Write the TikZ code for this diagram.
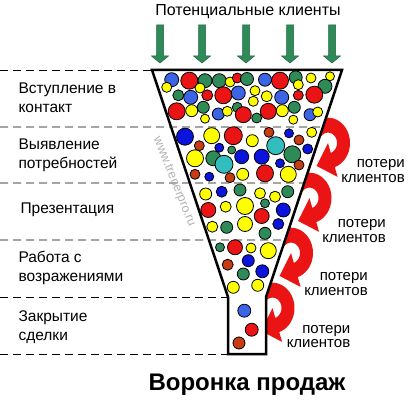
\documentclass[tikz,border=0pt]{standalone}
\usepackage{fontspec}
\setmainfont{Liberation Sans}
\usetikzlibrary{calc}

\definecolor{arrowgreen}{RGB}{46,139,87}
\definecolor{lossred}{RGB}{235,20,20}
\definecolor{rd}{RGB}{235,20,20}
\definecolor{bl}{RGB}{60,100,230}
\definecolor{db}{RGB}{10,20,220}
\definecolor{gr}{RGB}{46,139,87}
\definecolor{ye}{RGB}{255,255,0}
\definecolor{cy}{RGB}{50,190,190}
\definecolor{br}{RGB}{200,60,20}

\tikzset{
  stagelabel/.style={anchor=west, align=left, font=\fontsize{15.5}{19}\selectfont},
  losslabel/.style={align=right, font=\fontsize{15}{14.5}\selectfont},
  ball/.style={draw=black, line width=0.8pt},
  stageline/.style={dash pattern=on 8pt off 5pt, line width=0.9pt},
  lossarrow/.pic={
    \begin{scope}[yscale=1.15]
    \fill[lossred] plot[domain=-140:72, samples=30, variable=\t] ({22*cos(\t)},{22*sin(\t)})
      -- ({31*cos(72)},{31*sin(72)})
      -- ({15.5*cos(72)-17*sin(72)},{15.5*sin(72)+17*cos(72)})
      -- ({0*cos(72)},{0*sin(72)})
      -- plot[domain=72:-140, samples=30, variable=\t] ({9*cos(\t)},{9*sin(\t)}) -- cycle;
    \end{scope}
  }
}

\begin{document}
\begin{tikzpicture}[x=1pt,y=-1pt]
  \useasboundingbox (0,0) rectangle (410,401);

  % funnel corners
  \coordinate (tl) at (152,70);
  \coordinate (tr) at (342,70);
  \coordinate (nr) at (266,297);
  \coordinate (nl) at (228,297);
  \coordinate (bl) at (228,354);
  \coordinate (br) at (266,354);

  % prospects
  \node (prospects) at (248,12) {\fontsize{16}{16}\selectfont Потенциальные клиенты};
  \foreach \x in {160,202,246,290,332}
    \filldraw[fill=arrowgreen, draw=arrowgreen!70!black, line width=0.5pt]
      (\x-3.5,25) -- (\x+3.5,25) -- (\x+3.5,56) -- (\x+8.5,56) -- (\x,63)
      -- (\x-8.5,56) -- (\x-3.5,56) -- cycle;

  % losses (under the funnel)
  \pic at (328,143) {lossarrow};
  \pic at (309.5,198) {lossarrow};
  \pic at (291,253) {lossarrow};
  \pic at (272.5,308) {lossarrow};

  % funnel
  \fill[white] (tl) -- (tr) -- (nr) -- (br) -- (bl) -- (nl) -- cycle;

  % stage borders
  \draw[stageline] (0,70) -- (tl);
  \foreach \y/\f in {127/0.2511, 183/0.4978, 240/0.7489}
    \draw[stageline] (0,\y) -- ($(tr)!\f!(nr)$);
  \draw[stageline] (0,297) -- (nl);
  \draw[stageline] (0,354) -- (bl);

  % clients
  \foreach \x/\y/\r/\c in {
    171.7/79.7/7/bl, 166.7/87.3/5/ye, 189.3/80.7/8.5/rd, 205/80.7/7/gr,
    219.3/80.7/7/gr, 230/82/5/ye, 237.3/78/5/rd, 247/79/6.5/gr,
    178.3/95.3/5.5/gr, 190.7/97.3/7/bl, 200/88/5/ye, 207.3/95.3/5.5/rd,
    223.3/95.3/8.5/rd, 238.3/93/7/bl, 176.7/111.3/8.5/rd, 191.7/110.7/6/ye,
    203.3/107.3/6/gr, 205/118.7/4.5/ye, 218.3/114/6/bl, 227.3/111.3/5/ye,
    237.3/107.3/5/gr, 243.3/114.7/8/rd, 265/79.7/6.5/bl, 280/80.7/8.5/rd,
    295.7/77.3/6.5/gr, 298.3/84.7/5/ye, 311/78/5/ye, 330/76.3/4.5/ye,
    325/86.3/7/gr, 255/90.7/5/ye, 266.7/96.3/5.5/ye, 281.7/97.3/7/bl,
    298.3/95.3/5/rd, 314.3/94.7/8.5/rd, 253.3/101.3/5/ye, 282.3/110.7/6/ye,
    294.3/107.3/6/gr, 268.3/111.3/8/rd, 256.7/118/5/gr, 293.3/119.7/4.5/ye,
    310/114.7/6/bl, 317.7/112/5/ye,
    185/136.7/8.5/db, 211.7/135.7/8/ye, 233.3/135.7/9/rd, 199.3/145.7/5/br,
    219.3/147.7/4.5/db, 231.7/150/4/gr, 241.7/156.7/7/db, 195/158.3/8.5/ye,
    213.3/158.3/7.5/gr, 224/164.3/9/cy, 195/174.3/5/br, 209.3/176.7/4.5/db,
    230/177.7/5/br, 242.7/174.3/6/ye, 252.3/140.7/6/ye, 269/132.3/5/br,
    289/133.3/4.5/db, 311.7/132.3/5/ye, 275.7/145.7/9/cy, 299/140/5/br,
    307.7/149/5/db, 261.7/156.7/7.5/db, 292.3/154.3/8.5/gr, 280/163.3/4.5/db,
    299/165/5/br, 265/173.3/8.5/rd, 288.3/174.3/8/ye,
    205.7/194/6/ye, 221.7/191.7/5.5/db, 240/190/6/gr, 260/193.3/5.5/ye,
    275/196.7/5.5/ye, 287.7/191.7/6/gr, 208.3/210/7.5/rd, 225.7/206.7/5.5/ye,
    245/206/8.5/ye, 265/203.3/4.5/gr, 283.3/210/7/db, 261.7/216/7.5/rd,
    212.3/226.7/5.5/ye, 226.7/227.3/6/gr, 245/224/7.5/ye, 278.3/224/5.5/db,
    265/233.3/6/gr,
    220/247.3/4.5/gr, 235/247.3/7.5/rd, 251/248/5/ye, 268.3/250.7/8/ye,
    227.7/264.7/5.5/br, 248.3/260.7/6/db, 243.3/274/6/gr, 262.3/271.3/6.5/db,
    233.3/287.3/6/ye, 257.7/285.3/6/ye,
    244.3/310.7/6.5/bl, 251.7/329.7/6.5/rd, 239/343/6/br}
    \filldraw[ball, fill=\c] (\x,\y) circle[radius=\r];

  \draw[line width=2.5pt, line join=miter] (tl) -- (tr) -- (nr) -- (br) -- (bl) -- (nl) -- cycle;

  % site mark
  \node[text=black!30, rotate=-68, font=\fontsize{12.5}{12.5}\selectfont] (site) at (174,182) {www.trenerpro.ru};

  % stages
  \node[stagelabel] (contact) at (15,98) {Вступление в\\контакт};
  \node[stagelabel] (needs) at (15,155) {Выявление\\потребностей};
  \node[stagelabel] (present) at (17,210) {Презентация};
  \node[stagelabel] (objections) at (15,268) {Работа с\\возражениями};
  \node[stagelabel] (closing) at (15,327) {Закрытие\\сделки};

  % lost clients
  \node[losslabel] (loss1) at (373,171) {потери\\клиентов};
  \node[losslabel] (loss2) at (354,231) {потери\\клиентов};
  \node[losslabel] (loss3) at (336,284) {потери\\клиентов};
  \node[losslabel] (loss4) at (318.5,336.5) {потери\\клиентов};

  \node[font=\bfseries\fontsize{24}{24}\selectfont] (title) at (247,385) {Воронка продаж};
\end{tikzpicture}
\end{document}
